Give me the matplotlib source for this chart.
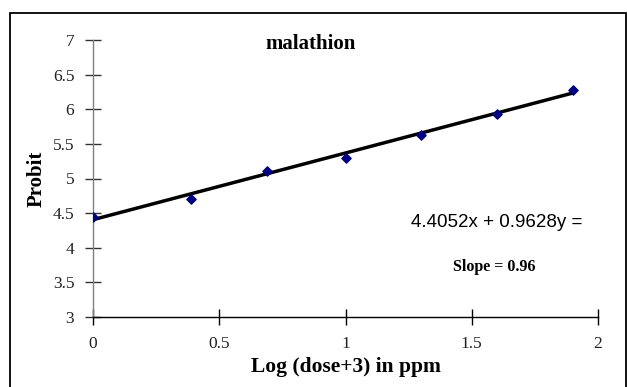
import matplotlib
matplotlib.use("Agg")
import matplotlib.pyplot as plt
from matplotlib.patches import Rectangle
import numpy as np

# Data
log_dose = [0.0, 0.39, 0.69, 1.0, 1.3, 1.6, 1.9]
probit = [4.45, 4.71, 5.11, 5.30, 5.63, 5.93, 6.28]
intercept = 4.4052
slope = 0.9628
x_ticks = [0, 0.5, 1, 1.5, 2]
x_tick_labels = ["0", "0.5", "1", "1.5", "2"]
y_ticks = [3, 3.5, 4, 4.5, 5, 5.5, 6, 6.5, 7]
y_tick_labels = ["3", "3.5", "4", "4.5", "5", "5.5", "6", "6.5", "7"]

serif = "Liberation Serif"
sans = "Liberation Sans"

fig = plt.figure(figsize=(6.27, 3.87), dpi=100)
ax = fig.add_axes([93/627, 1-317/387, (598-93)/627, (317-40)/387])

# Border around chart
fig.patches.append(Rectangle((10/627, -0.05), (626-10)/627, 1-13/387+0.05,
                             transform=fig.transFigure, fill=False,
                             edgecolor="black", linewidth=1.3))

xs = np.array([log_dose[0], log_dose[-1]])
ax.plot(xs, intercept + slope*xs, color="black", linewidth=2.5, zorder=2)
ax.scatter(log_dose, probit, marker="D", s=22, color="#000080", zorder=3)

ax.set_xlim(0, 2)
ax.set_ylim(3, 7)
ax.set_xticks(x_ticks)
ax.set_xticklabels(x_tick_labels, fontfamily=serif, fontsize=12.5, color="#222222")
ax.set_yticks(y_ticks)
ax.set_yticklabels(y_tick_labels, fontfamily=serif, fontsize=12.5, color="#222222")
ax.tick_params(axis="both", direction="inout", length=11, width=1.0)
ax.tick_params(axis="y", color="#333333", pad=8)
ax.tick_params(axis="x", pad=8)

for s in ["top", "right"]:
    ax.spines[s].set_visible(False)
ax.spines["left"].set_color("#808080")
ax.spines["bottom"].set_color("black")
ax.spines["left"].set_linewidth(1.0)
ax.spines["bottom"].set_linewidth(1.0)

ax.set_xlabel("Log (dose+3) in ppm", fontfamily=serif, fontsize=15.5, fontweight="bold", labelpad=4)
ax.set_ylabel("Probit", fontfamily=serif, fontsize=15, fontweight="bold", labelpad=4)

ax.text(0.86, 6.94, "malathion", fontfamily=serif, fontsize=15, fontweight="bold",
        ha="center", va="center")
ax.text(1.6, 4.37, "4.4052x + 0.9628y =", fontfamily=sans, fontsize=13.5,
        ha="center", va="center")
ax.text(1.59, 3.72, "Slope = 0.96", fontfamily=serif, fontsize=11.5, fontweight="bold",
        ha="center", va="center")

fig.savefig("out.png", dpi=100)
